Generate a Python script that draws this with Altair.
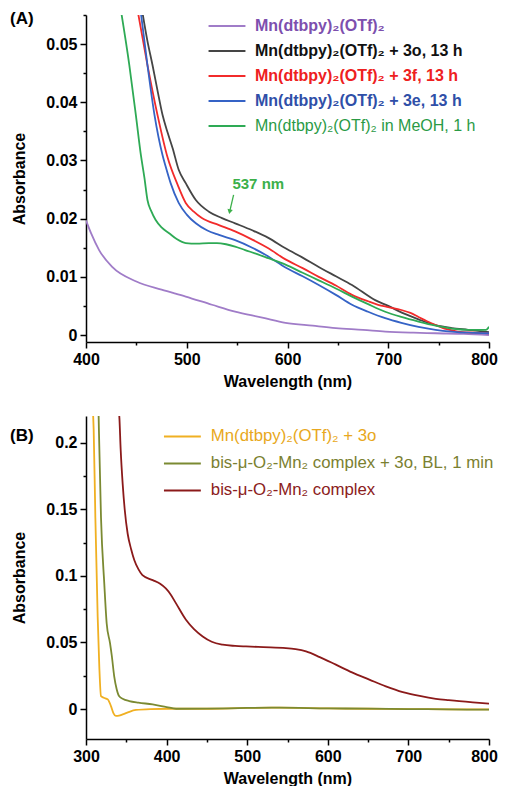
import altair as alt
import pandas as pd

FONT = "Liberation Sans"

# ---------------- Panel A data ----------------
a_keys = ["a1", "a2", "a3", "a4", "a5"]
a_labels = [
    "Mn(dtbpy)₂(OTf)₂",
    "Mn(dtbpy)₂(OTf)₂ + 3o, 13 h",
    "Mn(dtbpy)₂(OTf)₂ + 3f, 13 h",
    "Mn(dtbpy)₂(OTf)₂ + 3e, 13 h",
    "Mn(dtbpy)₂(OTf)₂ in MeOH, 1 h",
]
a_colors = ["#a07cc8", "#454545", "#f22b2b", "#3563c6", "#2eaa55"]
a_label_colors = ["#7d4fae", "#111111", "#ee2020", "#2f4fa8", "#2a9a45"]
a_label_weights = ["bold", "bold", "bold", "bold", "normal"]

purple_x = [400, 405, 413, 426, 450, 475, 499, 525, 548, 575, 598, 625, 648, 675, 697, 725, 747, 775, 800]
purple_y = [0.0197, 0.0175, 0.0146, 0.0117, 0.0092, 0.0078, 0.0066, 0.0052, 0.0040, 0.0030, 0.0021,
            0.0016, 0.0012, 0.0009, 0.0006, 0.0004, 0.0003, 0.0002, 0.0000]

black_x = [455, 461, 466, 471, 476, 481, 486, 492, 499, 509, 522, 535, 548, 565, 581, 598, 615, 631,
           648, 664, 687, 700, 714, 730, 747, 763, 779, 800]
black_y = [0.0565, 0.0505, 0.0464, 0.0420, 0.0378, 0.0348, 0.0321, 0.0284, 0.0261, 0.0232, 0.0212,
           0.0201, 0.0192, 0.0180, 0.0167, 0.0149, 0.0133, 0.0117, 0.0101, 0.0086, 0.0060, 0.0050,
           0.0038, 0.0027, 0.0017, 0.0012, 0.0009, 0.0005]

red_x = [451, 461, 471, 481, 491, 499, 507, 515, 532, 548, 565, 581, 598, 615, 631, 648, 664, 680,
         690, 700, 713, 722, 730, 738, 747, 758, 769, 785, 800]
red_y = [0.0560, 0.0464, 0.0378, 0.0305, 0.0258, 0.0227, 0.0212, 0.0201, 0.0189, 0.0178, 0.0164,
         0.0149, 0.0130, 0.0115, 0.0100, 0.0085, 0.0069, 0.0058, 0.0052, 0.0048, 0.0043, 0.0038,
         0.0031, 0.0024, 0.0017, 0.0010, 0.0006, 0.0004, 0.0003]

blue_x = [454, 461, 468, 476, 479, 484, 492, 500, 509, 520, 532, 548, 565, 581, 598, 615, 631, 648,
          664, 680, 697, 713, 730, 747, 763, 780, 800]
blue_y = [0.0560, 0.0464, 0.0378, 0.0309, 0.0290, 0.0261, 0.0227, 0.0207, 0.0192, 0.0180, 0.0172,
          0.0163, 0.0150, 0.0135, 0.0116, 0.0101, 0.0086, 0.0069, 0.0052, 0.0040, 0.0029, 0.0021,
          0.0014, 0.0009, 0.0006, 0.0004, 0.0003]

green_x = [434, 443, 449.5, 454.5, 458, 461, 465, 469, 475, 482.5, 490, 499, 510, 522, 530, 539, 548,
           558, 570, 581, 598, 615, 631, 648, 664, 680, 697, 713, 730, 747, 763, 780, 797, 800]
green_y = [0.0565, 0.0464, 0.0378, 0.0309, 0.0270, 0.0232, 0.0212, 0.0198, 0.0185, 0.0175, 0.0165,
           0.0158, 0.0157, 0.0158, 0.0158, 0.0156, 0.0152, 0.0146, 0.0139, 0.0132, 0.0121, 0.0107,
           0.0094, 0.0080, 0.0066, 0.0053, 0.0040, 0.0031, 0.0023, 0.0016, 0.0011, 0.0009, 0.0009,
           0.0014]

a_series = [(purple_x, purple_y), (black_x, black_y), (red_x, red_y), (blue_x, blue_y), (green_x, green_y)]

a_x_ticks = [400, 450, 500, 550, 600, 650, 700, 750, 800]
a_y_ticks = [0, 0.005, 0.01, 0.015, 0.02, 0.025, 0.03, 0.035, 0.04, 0.045, 0.05, 0.055]
a_x_domain = [400, 800]
a_y_domain = [-0.0012, 0.0550]

# annotation "537 nm"
ann_text = ["537 nm"]
ann_text_x = [571]
ann_text_y = [0.0259]
ann_arrow_x = [546.5]
ann_arrow_y = [0.0241]
ann_arrow_x2 = [542.6]
ann_arrow_y2 = [0.0212]

# ---------------- Panel B data ----------------
b_keys = ["b1", "b2", "b3"]
b_labels = [
    "Mn(dtbpy)₂(OTf)₂ + 3o",
    "bis-μ-O₂-Mn₂ complex + 3o, BL, 1 min",
    "bis-μ-O₂-Mn₂ complex",
]
b_colors = ["#f0b022", "#7b8a32", "#8b1a1a"]
b_label_colors = ["#e8a820", "#7a8030", "#8b2020"]
b_label_weights = ["normal", "normal", "normal"]

yellow_x = [308.5, 309.5, 311.6, 314.5, 316.5, 318.6, 322, 327, 331, 334, 337, 341, 345.5, 352, 362,
            380, 403, 450, 500, 540, 600, 650, 700, 750, 800]
yellow_y = [0.225, 0.21, 0.144, 0.069, 0.032, 0.0097, 0.0085, 0.0072, 0.0022, -0.003, -0.0052,
            -0.0050, -0.004, -0.0025, -0.0007, 0.0, 0.0002, 0.0002, 0.0008, 0.0010, 0.0005, 0.0002,
            0.0, -0.0002, -0.0003]

olive_x = [315.5, 316, 318.6, 322.7, 325.7, 329.8, 332, 335, 338, 341, 346, 353.7, 365, 382.7, 400,
           411.7, 450, 500, 540, 600, 650, 700, 750, 800]
olive_y = [0.225, 0.21, 0.144, 0.094, 0.064, 0.0495, 0.040, 0.0246, 0.015, 0.0097, 0.0075, 0.006,
           0.0048, 0.0035, 0.0015, 0.0002, 0.0003, 0.0008, 0.0010, 0.0005, 0.0003, 0.0, -0.0003,
           -0.0005]

darkred_x = [340.5, 341.4, 343, 345.5, 348, 351.7, 356, 360, 365, 370, 382.7, 392, 399, 405, 411.7,
             424, 434, 444.8, 456, 469.6, 485, 498.5, 520, 548, 560, 573, 590, 610, 630, 651.5, 672,
             693, 714, 734, 750, 763, 780, 800]
darkred_y = [0.225, 0.219, 0.195, 0.169, 0.150, 0.1316, 0.120, 0.1117, 0.105, 0.1005, 0.0968, 0.094,
             0.0905, 0.086, 0.0793, 0.067, 0.060, 0.0545, 0.0505, 0.0483, 0.0474, 0.047, 0.0465,
             0.0458, 0.0450, 0.0433, 0.0390, 0.0333, 0.0275, 0.0221, 0.0170, 0.0127, 0.0098, 0.0077,
             0.0067, 0.0060, 0.0050, 0.0040]

b_series = [(yellow_x, yellow_y), (olive_x, olive_y), (darkred_x, darkred_y)]

b_x_ticks = [300, 350, 400, 450, 500, 550, 600, 650, 700, 750, 800]
b_y_ticks = [0, 0.025, 0.05, 0.075, 0.1, 0.125, 0.15, 0.175, 0.2]
b_x_domain = [300, 800]
b_y_domain = [-0.0225, 0.2200]

panel_labels = ["(A)", "(B)"]


# ---------------- helpers ----------------
def long_df(keys, series):
    rows = []
    for k, (xs, ys) in zip(keys, series):
        for x, y in zip(xs, ys):
            rows.append({"key": k, "wl": x, "abs": y})
    return pd.DataFrame(rows)


def lookup_expr(keys, vals):
    expr = "'%s'" % vals[-1]
    for k, v in reversed(list(zip(keys[:-1], vals[:-1]))):
        expr = "datum.value === '%s' ? '%s' : (%s)" % (k, v, expr)
    return expr


cond_x_tick = {"condition": {"test": "datum.value % 100 === 0", "value": 6}, "value": 3}
cond_last_label = {"condition": {"test": "datum.value === 800", "value": -5}, "value": 0}

# wide horizontal line used as legend symbol (unit square scaled by sqrt(size))
LEGEND_SYMBOL = "M-4.1,0L4.1,0"
LEGEND_SIZE = 81


def x_enc(domain, ticks):
    return alt.X(
        "wl:Q",
        scale=alt.Scale(domain=domain, nice=False, zero=False),
        axis=alt.Axis(
            title="Wavelength (nm)",
            values=ticks,
            labelExpr="datum.value % 100 === 0 ? datum.label : ''",
            tickSize=cond_x_tick,
            labelOffset=cond_last_label,
            grid=False,
            labelFlush=False,
            labelPadding=3,
            titlePadding=6,
        ),
    )


def y_enc(domain, ticks, major_mod):
    test = "abs(round(datum.value * 1000)) %% %d === 0" % major_mod
    return alt.Y(
        "abs:Q",
        scale=alt.Scale(domain=domain, nice=False, zero=False),
        axis=alt.Axis(
            title="Absorbance",
            values=ticks,
            labelExpr="%s ? format(datum.value, '.3~f') : ''" % test,
            tickSize={"condition": {"test": test, "value": 6}, "value": 3},
            grid=False,
            labelFlush=False,
            labelPadding=3,
            titlePadding=18,
        ),
    )


def panel(keys, labels, colors, lcolors, lweights, series, xdom, xticks, ydom, yticks, major_mod,
          lx, ly, lfs, plabel, plabel_y, w, h, extra_layers=()):
    df = long_df(keys, series)
    label_map = "{" + ", ".join("'%s': '%s'" % (k, l) for k, l in zip(keys, labels)) + "}"
    lines = alt.Chart(df).mark_line(clip=True, strokeWidth=1.8, interpolate="monotone").encode(
        x=x_enc(xdom, xticks),
        y=y_enc(ydom, yticks, major_mod),
        color=alt.Color(
            "key:N",
            scale=alt.Scale(domain=keys, range=colors),
            legend=alt.Legend(
                title=None,
                orient="none",
                legendX=lx,
                legendY=ly,
                symbolType=LEGEND_SYMBOL,
                symbolSize=LEGEND_SIZE,
                symbolStrokeWidth=2,
                labelFont=FONT,
                labelFontSize=lfs,
                labelLimit=600,
                labelOffset=20,
                rowPadding=9,
                labelExpr=label_map + "[datum.value]",
                labelColor=alt.ExprRef(lookup_expr(keys, lcolors)),
                labelFontWeight=alt.ExprRef(lookup_expr(keys, lweights)),
            ),
        ),
        order="wl:Q",
    )
    ptxt = alt.Chart(pd.DataFrame({"t": [plabel]})).mark_text(
        align="left", baseline="middle", font=FONT, fontSize=17, fontWeight="bold", color="black"
    ).encode(text="t:N", x=alt.value(-76), y=alt.value(plabel_y))
    layers = [lines] + list(extra_layers) + [ptxt]
    return alt.layer(*layers).properties(width=w, height=h)


# annotation layers for panel A
ann_df = pd.DataFrame({"wl": ann_text_x, "abs": ann_text_y, "t": ann_text})
arrow_df = pd.DataFrame({"wl": ann_arrow_x, "abs": ann_arrow_y, "wl2": ann_arrow_x2, "abs2": ann_arrow_y2})
tip_df = pd.DataFrame({"wl": ann_arrow_x2, "abs": ann_arrow_y2})

GREEN_TXT = "#3cb04a"
ann_text_layer = alt.Chart(ann_df).mark_text(
    font=FONT, fontSize=15, fontWeight="bold", color=GREEN_TXT
).encode(x=x_enc(a_x_domain, a_x_ticks), y=y_enc(a_y_domain, a_y_ticks, 10), text="t:N")
ann_rule = alt.Chart(arrow_df).mark_rule(color=GREEN_TXT, strokeWidth=1.3).encode(
    x=x_enc(a_x_domain, a_x_ticks), y=y_enc(a_y_domain, a_y_ticks, 10), x2="wl2:Q", y2="abs2:Q"
)
ann_tip = alt.Chart(tip_df).mark_point(
    shape="triangle-down", filled=True, size=30, angle=12, color=GREEN_TXT, opacity=1
).encode(x=x_enc(a_x_domain, a_x_ticks), y=y_enc(a_y_domain, a_y_ticks, 10))

chart_a = panel(a_keys, a_labels, a_colors, a_label_colors, a_label_weights, a_series,
                a_x_domain, a_x_ticks, a_y_domain, a_y_ticks, 10,
                133, 3, 16, panel_labels[0], 4, 403, 327,
                extra_layers=[ann_rule, ann_tip, ann_text_layer])
chart_b = panel(b_keys, b_labels, b_colors, b_label_colors, b_label_weights, b_series,
                b_x_domain, b_x_ticks, b_y_domain, b_y_ticks, 50,
                88, 12, 16.8, panel_labels[1], 20, 403, 323)

chart = alt.vconcat(chart_a, chart_b, spacing=27).resolve_scale(
    x="independent", y="independent", color="independent"
).properties(
    padding={"left": 2, "top": 2, "right": 0, "bottom": 0}
).configure_view(stroke=None).configure_axis(
    labelFont=FONT, titleFont=FONT, labelFontSize=16, titleFontSize=16,
    labelFontWeight="bold", titleFontWeight="bold",
    labelColor="black", titleColor="black", domainColor="black", tickColor="black",
    domainWidth=1.5, tickWidth=1.5,
)

chart.save("out.html", embed_options={"renderer": "svg", "actions": False})
